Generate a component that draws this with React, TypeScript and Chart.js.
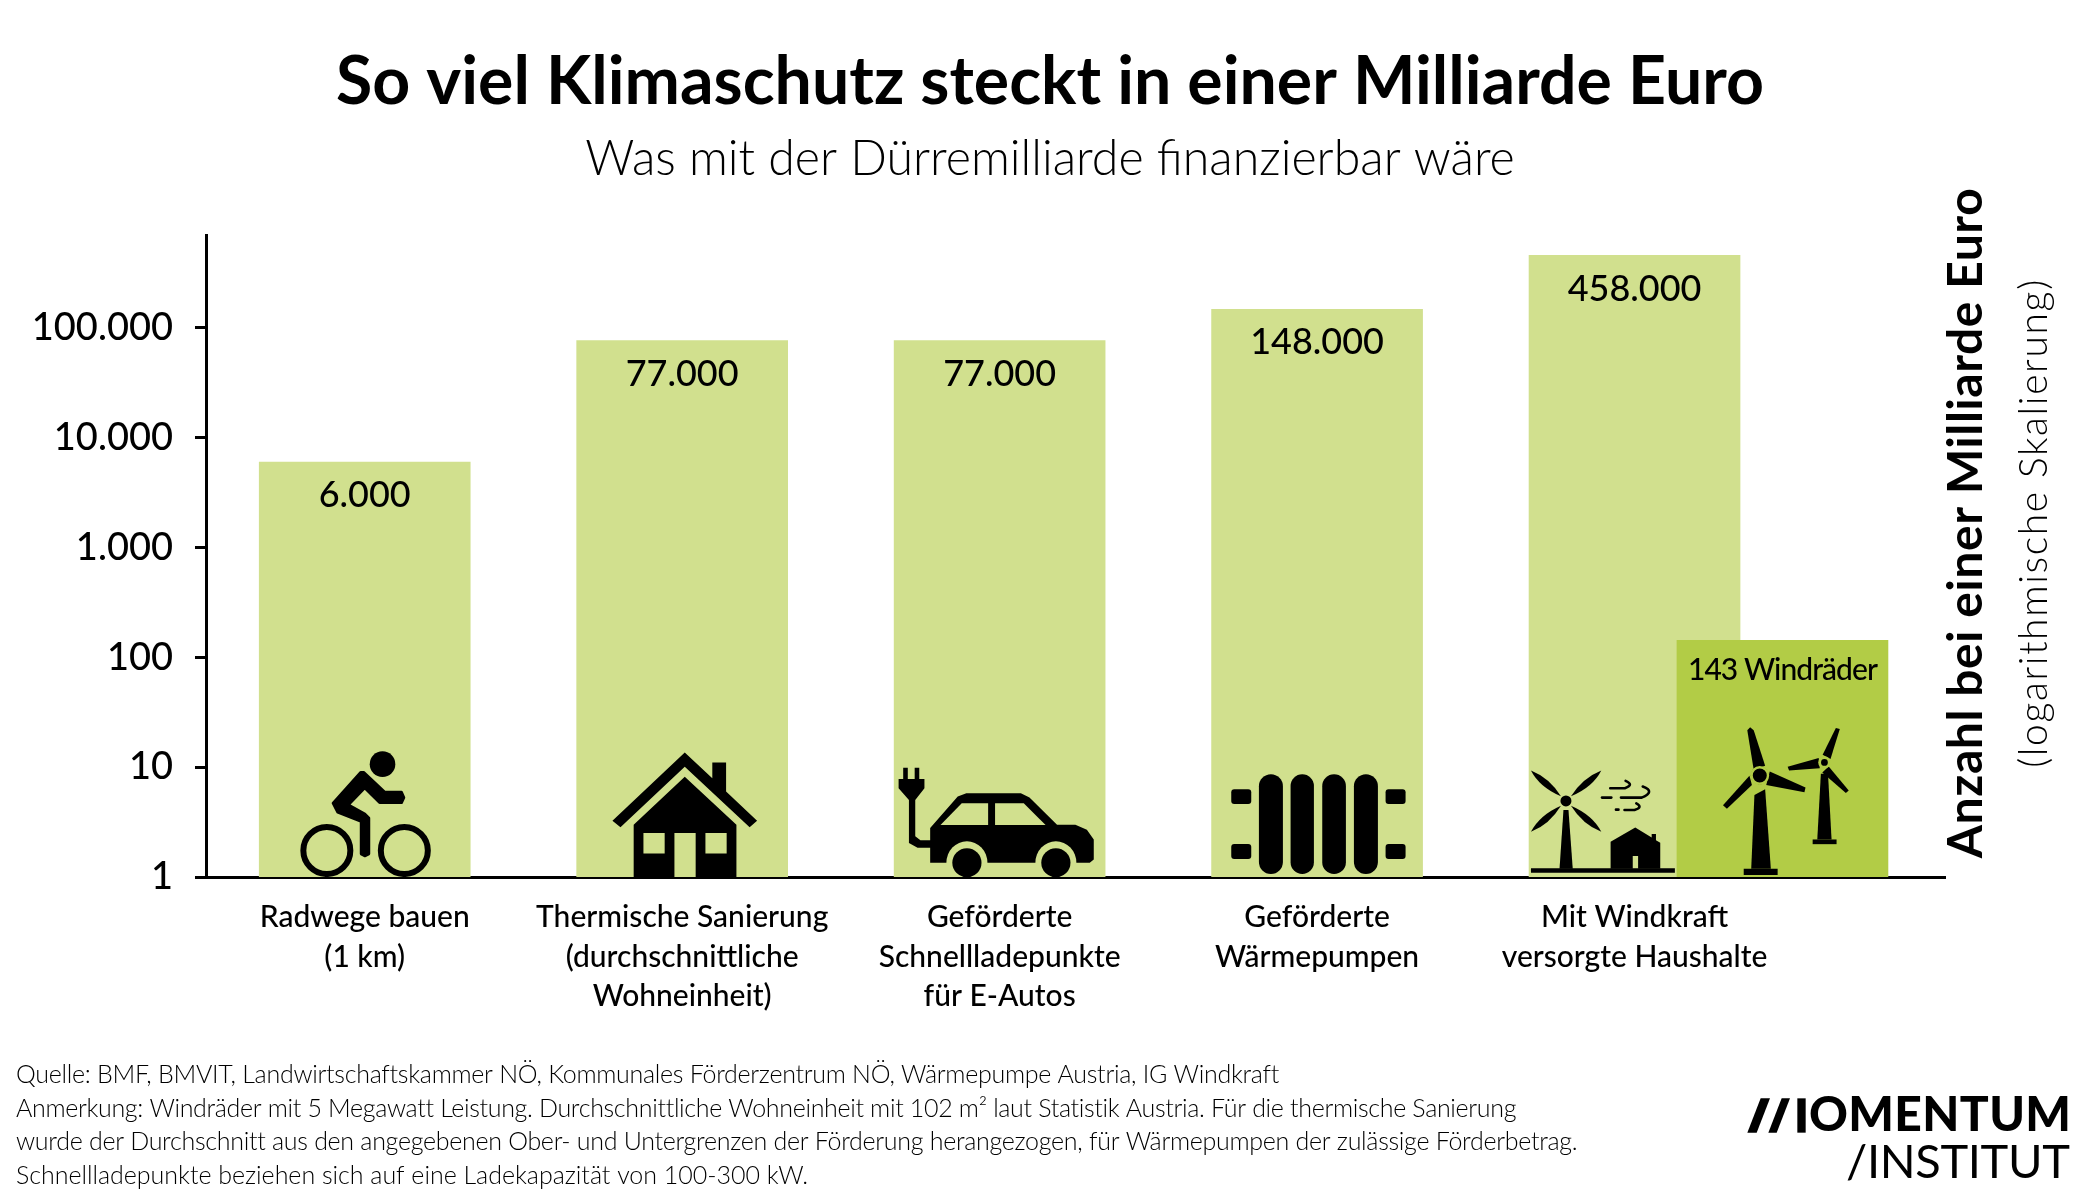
import React, { useEffect, useRef } from "react";
import { Chart, registerables } from "chart.js";

Chart.register(...registerables);

const categories: string[][] = [
  ["Radwege bauen", "(1 km)"],
  ["Thermische Sanierung", "(durchschnittliche", "Wohneinheit)"],
  ["Geförderte", "Schnellladepunkte", "für E-Autos"],
  ["Geförderte", "Wärmepumpen"],
  ["Mit Windkraft", "versorgte Haushalte"],
];
const amounts = [6000, 77000, 77000, 148000, 458000];
const amountLabels = ["6.000", "77.000", "77.000", "148.000", "458.000"];
const windTurbines = [143];
const windLabel = "143 Windräder";
const yTickValues = [1, 10, 100, 1000, 10000, 100000];
const yTickLabels = ["1", "10", "100", "1.000", "10.000", "100.000"];
const footnotes = [
  "Quelle: BMF, BMVIT, Landwirtschaftskammer NÖ, Kommunales Förderzentrum NÖ, Wärmepumpe Austria, IG Windkraft",
  "Anmerkung: Windräder mit 5 Megawatt Leistung. Durchschnittliche Wohneinheit mit 102 m² laut Statistik Austria. Für die thermische Sanierung",
  "wurde der Durchschnitt aus den angegebenen Ober- und Untergrenzen der Förderung herangezogen, für Wärmepumpen der zulässige Förderbetrag.",
  "Schnellladepunkte beziehen sich auf eine Ladekapazität von 100-300 kW.",
];
const footnoteWidths = [1262, 1500, 1561, 792];

const FONT = "Lato, 'Open Sans', sans-serif";
const LIGHT = "#D1E08E";
const DARK = "#B2CC46";
const INK = "#000000";

function fit(ctx: any, text: string, x: number, y: number, width: number, font: string, align: CanvasTextAlign = "left") {
  ctx.save();
  ctx.font = font;
  ctx.fillStyle = INK;
  ctx.textAlign = align;
  ctx.textBaseline = "middle";
  ctx.letterSpacing = "0px";
  const w = ctx.measureText(text).width;
  ctx.letterSpacing = (width - w) / Math.max(text.length - 1, 1) + "px";
  ctx.fillText(text, x, y);
  ctx.restore();
}

type Pt = [number, number];
function poly(ctx: any, pts: Pt[]) {
  ctx.beginPath();
  pts.forEach((p, i) => (i ? ctx.lineTo(p[0], p[1]) : ctx.moveTo(p[0], p[1])));
  ctx.closePath();
  ctx.fill();
}
function oval(ctx: any, x: number, y: number, rx: number, ry: number) {
  ctx.beginPath();
  ctx.ellipse(x, y, rx, ry, 0, 0, Math.PI * 2);
  ctx.fill();
}

function drawBike(ctx: any, cx: number, by: number) {
  const P = (x: number, y: number): Pt => [cx + (x - 182) * 0.574, by + (y - 468) * 0.331];
  ctx.fillStyle = INK;
  const head = P(213, 127);
  oval(ctx, head[0], head[1], 12.8, 12.8);
  ctx.strokeStyle = INK;
  ctx.lineWidth = 6;
  [116, 251].forEach((x) => {
    const c = P(x, 388);
    ctx.beginPath();
    ctx.arc(c[0], c[1], 23.5, 0, Math.PI * 2);
    ctx.stroke();
  });
  ctx.lineJoin = "round";
  ctx.lineWidth = 3;
  const body: Pt[] = [
    [175, 152], [127, 245], [135, 272], [176, 300], [176, 398], [182, 404], [189, 398], [189, 290],
    [182, 278], [153, 250], [182, 198], [208, 243], [246, 243], [250, 228], [246, 212], [217, 212], [180, 152],
  ].map(([x, y]) => P(x, y));
  poly(ctx, body);
  ctx.beginPath();
  body.forEach((p, i) => (i ? ctx.lineTo(p[0], p[1]) : ctx.moveTo(p[0], p[1])));
  ctx.closePath();
  ctx.stroke();
}

function drawHouse(ctx: any, cx: number, by: number) {
  const P = (x: number, y: number): Pt => [cx + (x - 735.5) * 0.574, by + (y - 468) * 0.331];
  ctx.fillStyle = INK;
  poly(ctx, ([
    [740, 92], [788, 170], [788, 122], [812, 122], [812, 210], [866, 298], [853, 318], [740, 135], [628, 318], [614, 298],
  ] as Pt[]).map(([x, y]) => P(x, y)));
  poly(ctx, ([
    [740, 165], [830, 310], [830, 468], [759, 468], [759, 335], [722, 335], [722, 468], [651, 468], [651, 310],
  ] as Pt[]).map(([x, y]) => P(x, y)));
  ctx.fillStyle = LIGHT;
  [[668, 705], [776, 813]].forEach(([a, b]) => {
    poly(ctx, ([[a, 335], [b, 335], [b, 397], [a, 397]] as Pt[]).map(([x, y]) => P(x, y)));
  });
}

function drawCar(ctx: any, cx: number, by: number) {
  const P = (x: number, y: number): Pt => [cx + (x - 1288) * 0.574, by + (y - 468) * 0.331];
  ctx.fillStyle = INK;
  poly(ctx, ([
    [1167, 320], [1215, 225], [1230, 215], [1325, 215], [1340, 228], [1388, 310], [1420, 310], [1440, 325], [1452, 355],
    [1452, 415], [1445, 425], [1167, 425], [1167, 380], [1145, 380], [1130, 365], [1130, 235], [1112, 200], [1112, 172],
    [1120, 172], [1120, 138], [1128, 138], [1128, 172], [1140, 172], [1140, 138], [1148, 138], [1148, 172], [1157, 172],
    [1157, 200], [1141, 235], [1141, 345], [1150, 357], [1167, 357],
  ] as Pt[]).map(([x, y]) => P(x, y)));
  ctx.fillStyle = LIGHT;
  poly(ctx, ([[1185, 311], [1222, 245], [1268, 245], [1268, 311]] as Pt[]).map(([x, y]) => P(x, y)));
  poly(ctx, ([[1280, 245], [1330, 245], [1368, 311], [1280, 311]] as Pt[]).map(([x, y]) => P(x, y)));
  [1231, 1386].forEach((x) => {
    const c = P(x, 425);
    ctx.fillStyle = LIGHT;
    oval(ctx, c[0], c[1], 20.5, 21.5);
    ctx.fillStyle = INK;
    oval(ctx, c[0], c[1], 14.6, 14.6);
  });
}

function drawRadiator(ctx: any, cx: number, by: number) {
  const X = (x: number) => cx + (x - 349.5) / 3;
  const Y = (y: number) => by + (y - 351) / 3;
  ctx.fillStyle = INK;
  [[175, 247], [270, 340], [365, 436], [460, 532]].forEach(([a, b]) => {
    ctx.beginPath();
    ctx.roundRect(X(a), Y(43), (b - a) / 3, (342 - 43) / 3, (b - a) / 6);
    ctx.fill();
  });
  [[92, 152], [555, 615]].forEach(([a, b]) => {
    [[88, 132], [252, 297]].forEach(([t, u]) => {
      ctx.beginPath();
      ctx.roundRect(X(a), Y(t), (b - a) / 3, (u - t) / 3, 3);
      ctx.fill();
    });
  });
}

function drawWindHouse(ctx: any, cx: number, by: number) {
  const P = (x: number, y: number): Pt => [cx + (x - 655) / 2.8, by + (y - 770) * 0.335];
  ctx.fillStyle = INK;
  const hub = P(463, 543);
  oval(ctx, hub[0], hub[1], 5.5, 5.5);
  ([[365, 452], [562, 452], [365, 635], [562, 635]] as Pt[]).forEach(([x, y]) => {
    const sx = x < 463 ? 1 : -1;
    const sy = y < 543 ? 1 : -1;
    const tip = P(x, y);
    const end = P(463 - sx * 14, 543 - sy * 14);
    const c1 = P(x + sx * 52, y + sy * 22);
    const c2 = P(x + sx * 24, y + sy * 50);
    ctx.beginPath();
    ctx.moveTo(tip[0], tip[1]);
    ctx.quadraticCurveTo(c1[0], c1[1], end[0], end[1]);
    ctx.quadraticCurveTo(c2[0], c2[1], tip[0], tip[1]);
    ctx.fill();
  });
  poly(ctx, ([[456, 570], [470, 570], [482, 745], [445, 745]] as Pt[]).map(([x, y]) => P(x, y)));
  poly(ctx, ([[365, 744], [768, 744], [768, 757], [365, 757]] as Pt[]).map(([x, y]) => P(x, y)));
  poly(ctx, ([
    [588, 665], [657, 622], [703, 652], [703, 642], [715, 642], [715, 660], [727, 668], [727, 745],
    [665, 745], [665, 707], [650, 707], [650, 745], [588, 745],
  ] as Pt[]).map(([x, y]) => P(x, y)));
  ctx.strokeStyle = INK;
  ctx.lineWidth = 2.6;
  ctx.lineCap = "round";
  const line = (a: Pt, b: Pt, c?: Pt, d?: Pt) => {
    const A = P(a[0], a[1]);
    const B = P(b[0], b[1]);
    ctx.beginPath();
    ctx.moveTo(A[0], A[1]);
    ctx.lineTo(B[0], B[1]);
    if (c && d) {
      const C = P(c[0], c[1]);
      const D = P(d[0], d[1]);
      ctx.quadraticCurveTo(C[0], C[1], D[0], D[1]);
    }
    ctx.stroke();
  };
  line([587, 505], [628, 505], [655, 495], [630, 483]);
  line([564, 533], [590, 533]);
  line([617, 533], [675, 533], [715, 515], [678, 500]);
  line([603, 569], [610, 569]);
  line([627, 570], [655, 570], [680, 562], [660, 550]);
}

function drawTurbines(ctx: any, cx: number, by: number) {
  const P = (x: number, y: number): Pt => [cx + (x - 1070.5) / 2.8, by + (y - 770) * 0.335];
  const M = (l: number[][]) => l.map(([x, y]) => P(x, y));
  ctx.fillStyle = INK;
  poly(ctx, M([[972, 332], [980, 323], [990, 332], [1022, 438], [990, 450]]));
  poly(ctx, M([[1035, 455], [1135, 503], [1132, 517], [1025, 495]]));
  poly(ctx, M([[985, 495], [915, 566], [904, 556], [978, 468]]));
  poly(ctx, M([[992, 525], [1022, 508], [1038, 745], [983, 745]]));
  poly(ctx, M([[962, 745], [1057, 745], [1057, 764], [962, 764]]));
  const h1 = P(1007, 467);
  oval(ctx, h1[0], h1[1], 9, 9);
  ctx.strokeStyle = DARK;
  ctx.lineWidth = 2.4;
  ctx.beginPath();
  ctx.arc(h1[0], h1[1], 8.2, 0, Math.PI * 2);
  ctx.stroke();
  oval(ctx, h1[0], h1[1], 4.6, 4.6);
  poly(ctx, M([[1220, 325], [1231, 328], [1205, 418], [1183, 405]]));
  poly(ctx, M([[1085, 441], [1172, 415], [1175, 445], [1089, 452]]));
  poly(ctx, M([[1200, 440], [1256, 512], [1248, 519], [1182, 458]]));
  poly(ctx, M([[1178, 462], [1198, 462], [1208, 658], [1168, 658]]));
  poly(ctx, M([[1155, 658], [1222, 658], [1222, 672], [1155, 672]]));
  const h2 = P(1188, 428);
  ctx.fillStyle = DARK;
  oval(ctx, h2[0], h2[1], 6.2, 6.2);
  ctx.fillStyle = INK;
  oval(ctx, h2[0], h2[1], 3.4, 3.4);
}

function drawLogo(ctx: any) {
  ctx.fillStyle = INK;
  const X = (x: number) => 1740 + x / 3;
  const Y = (y: number) => 1090 + y / 3;
  const bar = (a: number, b: number, c: number, d: number) =>
    poly(ctx, [[X(a), Y(128)], [X(b), Y(128)], [X(d), Y(25)], [X(c), Y(25)]]);
  bar(22, 50, 62, 90);
  bar(85, 110, 125, 150);
  bar(172, 197, 172, 197);
  fit(ctx, "OMENTUM", 1809, 1115.5, 262, `900 48px ${FONT}`);
  fit(ctx, "/INSTITUT", 1846, 1163, 224, `400 47px ${FONT}`);
}

const decorationsPlugin = {
  id: "decorations",
  afterDatasetsDraw(chart: any) {
    const { ctx, scales } = chart;
    const by = scales.y.getPixelForValue(1);
    const cxs = amounts.map((_, i) => scales.x.getPixelForValue(i));
    ctx.save();
    ctx.beginPath();
    ctx.rect(0, 0, 2100, by);
    ctx.clip();
    drawBike(ctx, cxs[0], by);
    drawHouse(ctx, cxs[1], by);
    drawCar(ctx, cxs[2], by);
    drawRadiator(ctx, cxs[3], by);
    drawWindHouse(ctx, cxs[4], by);
    const wind = chart.getDatasetMeta(0).data[0];
    drawTurbines(ctx, wind.x, by);
    ctx.restore();
    const bars = chart.getDatasetMeta(1).data;
    ctx.save();
    ctx.font = `500 36px ${FONT}`;
    ctx.fillStyle = INK;
    ctx.textAlign = "center";
    ctx.textBaseline = "middle";
    bars.forEach((b: any, i: number) => ctx.fillText(amountLabels[i], b.x, b.y + 33.5));
    ctx.restore();
    fit(ctx, windLabel, wind.x, wind.y + 30, 190, `500 30px ${FONT}`, "center");
  },
  afterDraw(chart: any) {
    const { ctx } = chart;
    footnotes.forEach((t, i) => fit(ctx, t, 16, 1075 + i * 33.6, footnoteWidths[i], `300 25px ${FONT}`));
    ctx.save();
    ctx.translate(1967, 523);
    ctx.rotate(-Math.PI / 2);
    fit(ctx, "Anzahl bei einer Milliarde Euro", 0, 0, 670, `700 48px ${FONT}`, "center");
    ctx.restore();
    ctx.save();
    ctx.translate(2034, 523);
    ctx.rotate(-Math.PI / 2);
    fit(ctx, "(logarithmische Skalierung)", 0, 0, 488, `300 39px ${FONT}`, "center");
    ctx.restore();
    drawLogo(ctx);
  },
};

export default function App() {
  const ref = useRef<HTMLCanvasElement | null>(null);
  useEffect(() => {
    const chart = new Chart(ref.current as HTMLCanvasElement, {
      type: "bar",
      data: {
        datasets: [
          {
            label: "Windräder",
            data: windTurbines.map((y) => ({ x: amounts.length - 1 + 0.466, y })),
            backgroundColor: DARK,
            order: 0,
            barThickness: 211,
            grouped: false,
          },
          {
            label: "Anzahl",
            data: amounts.map((y, x) => ({ x, y })),
            backgroundColor: LIGHT,
            order: 1,
            barThickness: 211,
            grouped: false,
          },
        ] as any,
      },
      plugins: [decorationsPlugin],
      options: {
        responsive: false,
        animation: false,
        devicePixelRatio: 1,
        layout: { padding: 0 },
        events: [],
        plugins: {
          legend: { display: false },
          tooltip: { enabled: false },
          title: {
            display: true,
            text: "So viel Klimaschutz steckt in einer Milliarde Euro",
            color: INK,
            font: { family: FONT, size: 66.2, weight: "700" as any, lineHeight: 1.2 },
            padding: { top: 43.36, bottom: 8 },
          },
          subtitle: {
            display: true,
            text: "Was mit der Dürremilliarde finanzierbar wäre",
            color: INK,
            font: { family: FONT, size: 48.3, weight: "300" as any, lineHeight: 1.2 },
            padding: { top: 0, bottom: 46.24 },
          },
        },
        scales: {
          x: {
            type: "linear",
            offset: false,
            min: -0.5,
            max: 4.978,
            grid: { display: false, offset: false },
            border: { display: true, color: INK, width: 3 },
            afterBuildTicks: (s: any) => {
              s.ticks = categories.map((_, value) => ({ value }));
            },
            afterFit: (s: any) => {
              s.height = 323;
            },
            ticks: {
              autoSkip: false,
              maxRotation: 0,
              minRotation: 0,
              padding: 13,
              color: INK,
              font: { family: FONT, size: 30, weight: "500" as any, lineHeight: 1.317 },
              callback: (_v: any, i: number) => categories[i],
            },
          },
          y: {
            type: "logarithmic",
            min: 1,
            max: 703000,
            grid: { drawOnChartArea: false, drawTicks: true, tickLength: 11, color: INK, lineWidth: 3 },
            border: { display: true, color: INK, width: 3 },
            afterBuildTicks: (s: any) => {
              s.ticks = yTickValues.map((value) => ({ value }));
            },
            afterFit: (s: any) => {
              s.width = 206;
            },
            ticks: {
              autoSkip: false,
              padding: 22,
              color: INK,
              font: { family: FONT, size: 38, weight: "500" as any },
              callback: (_v: any, i: number) => yTickLabels[i],
            },
          },
          gutter: {
            type: "linear",
            position: "right",
            display: true,
            grid: { display: false },
            border: { display: false },
            ticks: { display: false },
            afterFit: (s: any) => {
              s.width = 155;
            },
          },
        },
      },
    } as any);
    return () => chart.destroy();
  }, []);
  return (
    <div style={{ position: "absolute", left: 0, top: 0, width: 2100, height: 1200, background: "#fff" }}>
      <canvas ref={ref} width={2100} height={1200} style={{ display: "block", width: 2100, height: 1200 }} />
    </div>
  );
}
